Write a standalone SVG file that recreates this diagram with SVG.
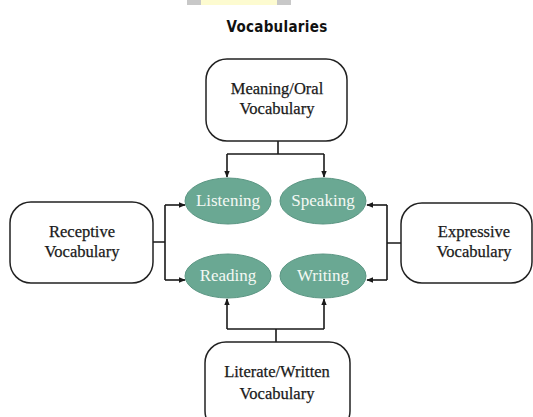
<svg xmlns="http://www.w3.org/2000/svg" width="533" height="417" viewBox="0 0 533 417">
<defs>
<style>
.box{fill:#fff;stroke:#222;stroke-width:1.5}
.ell{fill:#6aa893;stroke:#5b9683;stroke-width:1}
.bt{font-family:"Liberation Serif",serif;font-size:16.5px;fill:#1a1a1a;text-anchor:middle;stroke:#1a1a1a;stroke-width:0.25}
.et{font-family:"Liberation Serif",serif;font-size:17px;fill:#f4f8f4;text-anchor:middle}
.ln{fill:none;stroke:#1a1a1a;stroke-width:1.6}
</style>
<marker id="ah" viewBox="0 0 10 10" refX="9" refY="5" markerWidth="7" markerHeight="7" orient="auto" markerUnits="userSpaceOnUse">
<path d="M0,1 L10,5 L0,9 z" fill="#1a1a1a"/>
</marker>
</defs>
<rect width="533" height="417" fill="#fff"/>
<rect x="187" y="0" width="104" height="5" fill="#c8c8c8"/>
<rect x="201" y="0" width="76" height="5" fill="#fdfbd0"/>
<text x="277" y="32" font-family="'Liberation Sans Narrow','DejaVu Sans Condensed',sans-serif" font-size="15" font-weight="bold" fill="#111" text-anchor="middle" letter-spacing="0.3">Vocabularies</text>
<g id="connectors">
<path class="ln" d="M278,141 V154 M227,154 H324"/>
<path class="ln" d="M227,154 V177" marker-end="url(#ah)"/>
<path class="ln" d="M324,154 V177" marker-end="url(#ah)"/>
<path class="ln" d="M153,242 H165 M165,205 V280"/>
<path class="ln" d="M165,205 H185" marker-end="url(#ah)"/>
<path class="ln" d="M165,280 H185" marker-end="url(#ah)"/>
<path class="ln" d="M401,243 H387 M387,205 V280"/>
<path class="ln" d="M387,205 H367" marker-end="url(#ah)"/>
<path class="ln" d="M387,280 H367" marker-end="url(#ah)"/>
<path class="ln" d="M276,342 V329 M227,329 H324"/>
<path class="ln" d="M227,329 V299" marker-end="url(#ah)"/>
<path class="ln" d="M324,329 V299" marker-end="url(#ah)"/>
</g>
<g id="meaning">
<rect class="box" x="206" y="59" width="141" height="82" rx="21"/>
<text class="bt" x="277" y="94">Meaning/Oral</text>
<text class="bt" x="277" y="114">Vocabulary</text>
</g>
<g id="receptive">
<rect class="box" x="10" y="202" width="143" height="81" rx="21"/>
<text class="bt" x="82" y="237">Receptive</text>
<text class="bt" x="82" y="257">Vocabulary</text>
</g>
<g id="expressive">
<rect class="box" x="401" y="203" width="131" height="80" rx="21"/>
<text class="bt" x="474" y="237">Expressive</text>
<text class="bt" x="474" y="257">Vocabulary</text>
</g>
<g id="literate">
<rect class="box" x="205" y="342" width="145" height="90" rx="21"/>
<text class="bt" x="277" y="377">Literate/Written</text>
<text class="bt" x="277" y="399">Vocabulary</text>
</g>
<g id="listening">
<ellipse class="ell" cx="228" cy="201" rx="43" ry="23"/>
<text class="et" x="228" y="206">Listening</text>
</g>
<g id="speaking">
<ellipse class="ell" cx="323" cy="201" rx="43" ry="23"/>
<text class="et" x="323" y="206">Speaking</text>
</g>
<g id="reading">
<ellipse class="ell" cx="228" cy="276" rx="43" ry="22"/>
<text class="et" x="228" y="281">Reading</text>
</g>
<g id="writing">
<ellipse class="ell" cx="323" cy="276" rx="43" ry="22"/>
<text class="et" x="323" y="281">Writing</text>
</g>
</svg>
